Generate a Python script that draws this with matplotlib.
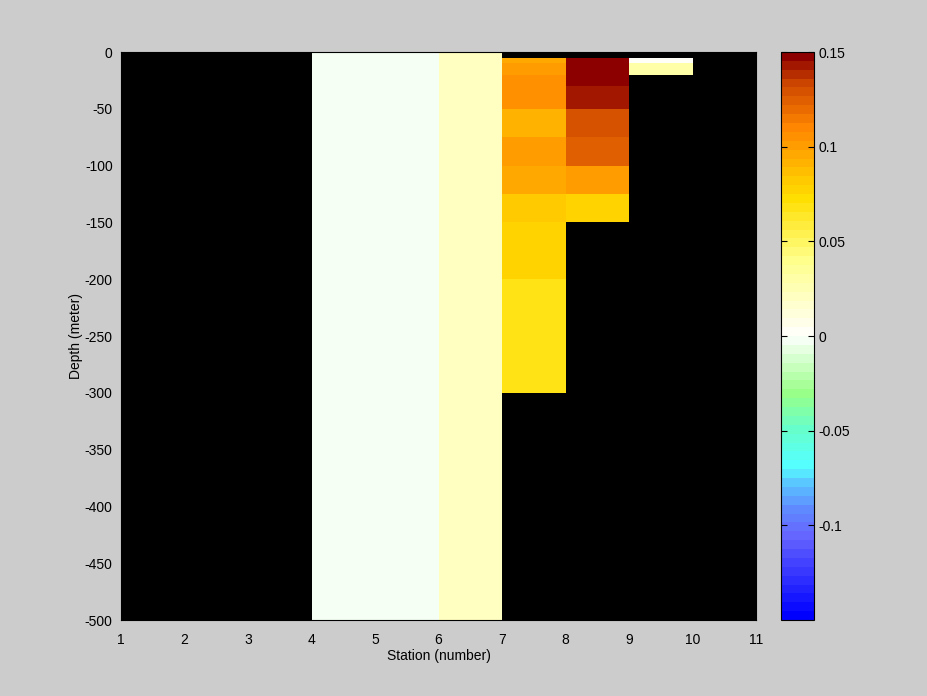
import numpy as np
import matplotlib
matplotlib.use('Agg')
import matplotlib.pyplot as plt
from matplotlib.colors import LinearSegmentedColormap, ListedColormap

# station edges and depth edges of the grid
stations = [1, 2, 3, 4, 5, 6, 7, 8, 9, 10, 11]
depths = [0, -5, -10, -20, -30, -50, -75, -100, -125, -150, -200, -300, -500]

nan = np.nan
# one list per station column (values from top to bottom)
col1 = [nan] * 12
col2 = [nan] * 12
col3 = [nan] * 12
col4 = [-0.002] * 12
col5 = [-0.002] * 12
col6 = [0.02] * 12
col7 = [nan, 0.095, 0.100, 0.106, 0.104, 0.093, 0.101, 0.097, 0.081, 0.077, 0.070, nan]
col8 = [nan, 0.148, 0.148, 0.148, 0.143, 0.131, 0.122, 0.100, 0.079, nan, nan, nan]
col9 = [nan, 0.001, 0.03, nan, nan, nan, nan, nan, nan, nan, nan, nan]
col10 = [nan] * 12

vals = np.array([col1, col2, col3, col4, col5, col6, col7, col8, col9, col10]).T
vals = np.ma.masked_invalid(vals)

# colormap: blue - cyan - green - white - yellow - orange - dark red, 64 levels
anchors = [
    (0.0, (0.0, 0.0, 1.0)),
    (9 / 63, (0.4, 0.4, 1.0)),
    (12 / 63, (0.37, 0.55, 1.0)),
    (15 / 63, (0.35, 0.8, 1.0)),
    (17 / 63, (0.33, 1.0, 1.0)),
    (21 / 63, (0.4, 1.0, 0.8)),
    (25 / 63, (0.6, 1.0, 0.53)),
    (31.5 / 63, (1.0, 1.0, 1.0)),
    (40 / 63, (1.0, 1.0, 0.55)),
    (47 / 63, (1.0, 0.87, 0.0)),
    (49 / 63, (1.0, 0.8, 0.0)),
    (55 / 63, (1.0, 0.53, 0.0)),
    (60 / 63, (0.8, 0.27, 0.0)),
    (1.0, (0.55, 0.0, 0.0)),
]
base = LinearSegmentedColormap.from_list('bwr_custom', anchors)
cmap = ListedColormap(base(np.linspace(0, 1, 64)))

plt.rcParams['font.family'] = ['Liberation Sans', 'DejaVu Sans']
plt.rcParams['font.size'] = 10
plt.rcParams['axes.unicode_minus'] = False

fig = plt.figure(figsize=(9.28, 6.96), dpi=100, facecolor='#cccccc')
ax = fig.add_axes([121 / 928, 76 / 696, 635 / 928, 568 / 696])
ax.set_facecolor('black')
mesh = ax.pcolormesh(stations, depths, vals, cmap=cmap, vmin=-0.15, vmax=0.15,
                     shading='flat', edgecolors='none')
ax.set_xlim(1, 11)
ax.set_ylim(-500, 0)
ax.set_xticks(range(1, 12))
ax.set_yticks(range(-500, 1, 50))
ax.tick_params(axis='x', length=0, pad=9)
ax.tick_params(axis='y', length=0, pad=6)
ax.set_xlabel('Station (number)', labelpad=2)
ax.set_ylabel('Depth (meter)', labelpad=1)

cax = fig.add_axes([781 / 928, 76 / 696, 33 / 928, 568 / 696])
cb = fig.colorbar(mesh, cax=cax)
cb.set_ticks([-0.1, -0.05, 0, 0.05, 0.1, 0.15])
cb.set_ticklabels(['-0.1', '-0.05', '0', '0.05', '0.1', '0.15'])
cax.tick_params(direction='in', left=True, right=True, length=4, pad=3)
cb.outline.set_edgecolor('black')

fig.savefig('out.png', dpi=100, facecolor='#cccccc')
